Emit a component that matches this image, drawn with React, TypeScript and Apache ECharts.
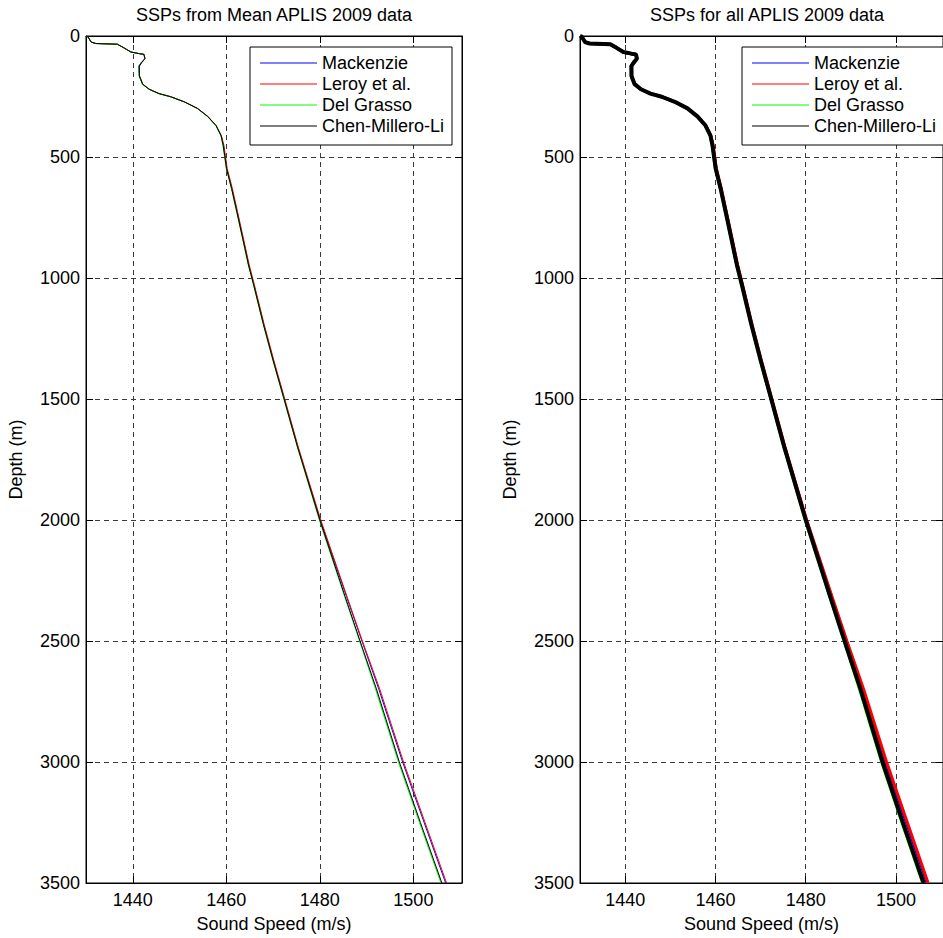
import React, { useEffect, useRef } from "react";
import * as echarts from "echarts";

// Depth (m), shared by every profile
const depths = [0, 3, 25, 31, 34, 49, 66, 73, 76, 94, 110, 124, 165, 199, 220, 238, 251, 272, 299, 332, 370, 412, 453, 494, 548, 631, 726, 822, 946, 1028, 1192, 1343, 1493, 1699, 2000, 2316, 2500, 2698, 3000, 3250, 3500];

// Sound speed (m/s) per equation
const mackenzie = [1430.0, 1430.4, 1431.1, 1432.1, 1436.7, 1438.1, 1439.6, 1441.4, 1442.4, 1442.6, 1441.8, 1441.3, 1441.4, 1442.1, 1443.5, 1445.6, 1448.1, 1451.0, 1453.8, 1456.0, 1457.8, 1458.9, 1459.4, 1459.7, 1460.1, 1461.2, 1462.3, 1463.4, 1464.8, 1465.9, 1468.0, 1470.1, 1472.3, 1475.3, 1480.1, 1485.7, 1489.0, 1492.6, 1497.7, 1502.3, 1506.9];
const leroy = [1430.0, 1430.4, 1431.1, 1432.1, 1436.7, 1438.1, 1439.6, 1441.4, 1442.4, 1442.6, 1441.9, 1441.4, 1441.45, 1442.15, 1443.55, 1445.65, 1448.15, 1451.05, 1453.85, 1456.05, 1457.85, 1458.95, 1459.5, 1459.8, 1460.2, 1461.3, 1462.4, 1463.5, 1464.9, 1466.0, 1468.1, 1470.2, 1472.4, 1475.4, 1480.2, 1485.8, 1489.1, 1492.8, 1497.9, 1502.5, 1507.1];
const delGrasso = [1430.0, 1430.4, 1431.1, 1432.1, 1436.7, 1438.1, 1439.6, 1441.4, 1442.4, 1442.6, 1441.9, 1441.4, 1441.35, 1442.05, 1443.45, 1445.55, 1448.05, 1450.95, 1453.75, 1455.95, 1457.75, 1458.85, 1459.3, 1459.6, 1460.0, 1461.1, 1462.2, 1463.3, 1464.7, 1465.8, 1467.9, 1470.0, 1472.2, 1475.2, 1479.9, 1485.3, 1488.5, 1491.9, 1496.8, 1501.3, 1505.9];
const chenMilleroLi = [1430.0, 1430.4, 1431.1, 1432.1, 1436.7, 1438.1, 1439.6, 1441.4, 1442.4, 1442.6, 1441.9, 1441.4, 1441.4, 1442.1, 1443.5, 1445.6, 1448.1, 1451.0, 1453.8, 1456.0, 1457.8, 1458.9, 1459.35, 1459.65, 1460.05, 1461.15, 1462.25, 1463.35, 1464.75, 1465.85, 1467.95, 1470.05, 1472.25, 1475.25, 1480.0, 1485.4, 1488.6, 1492.1, 1497.0, 1501.5, 1506.1];

const seriesNames = ["Mackenzie", "Leroy et al.", "Del Grasso", "Chen-Millero-Li"];
const seriesValues = [mackenzie, leroy, delGrasso, chenMilleroLi];
const seriesColors = ["#0000ff", "#ff0000", "#00ff00", "#000000"];

const xTicks = [1440, 1460, 1480, 1500];
const titles = ["SSPs from Mean APLIS 2009 data", "SSPs for all APLIS 2009 data"];
const xName = "Sound Speed (m/s)";
const yName = "Depth (m)";

const FONT = "'Liberation Sans', Arial, sans-serif";
const FS = 18;

export default function App() {
  const ref = useRef<HTMLDivElement>(null);
  useEffect(() => {
    if (!ref.current) return;
    const chart = echarts.init(ref.current, null, { renderer: "svg" });
    const grids = [
      { left: 86, top: 36, width: 376, height: 849 },
      { left: 580, top: 36, width: 376, height: 849 },
    ];
    const xMin = 1430, xMax = 1510.4;
    const xAxes: any[] = [];
    const yAxes: any[] = [];
    grids.forEach((_, gi) => {
      xAxes.push({
        type: "value", gridIndex: gi, position: "bottom", min: xMin, max: xMax,
        name: xName, nameLocation: "middle", nameGap: 32,
        nameTextStyle: { color: "#000", fontSize: FS, fontFamily: FONT },
        axisLine: { show: true, onZero: false, lineStyle: { color: "#000", width: 1 } },
        axisTick: { show: true, inside: true, length: 7, customValues: xTicks, lineStyle: { color: "#000" } },
        axisLabel: { show: true, customValues: xTicks, color: "#000", fontSize: FS, fontFamily: FONT, margin: 8, formatter: (v: number) => String(v) },
        splitLine: { show: true, lineStyle: { color: "#3a3a3a", type: [5, 4], width: 1 } },
      });
      xAxes.push({
        type: "value", gridIndex: gi, position: "top", min: xMin, max: xMax,
        axisLine: { show: true, onZero: false, lineStyle: { color: "#000", width: 1 } },
        axisTick: { show: true, inside: true, length: 7, customValues: xTicks, lineStyle: { color: "#000" } },
        axisLabel: { show: false },
        splitLine: { show: false },
      });
      yAxes.push({
        type: "value", gridIndex: gi, position: "left", inverse: true, min: 0, max: 3500, interval: 500,
        name: yName, nameLocation: "middle", nameGap: 61, nameRotate: 90,
        nameTextStyle: { color: "#000", fontSize: FS, fontFamily: FONT },
        axisLine: { show: true, onZero: false, lineStyle: { color: "#000", width: 1 } },
        axisTick: { show: true, inside: true, length: 7, lineStyle: { color: "#000" } },
        axisLabel: { show: true, color: "#000", fontSize: FS, fontFamily: FONT, margin: 6, formatter: (v: number) => String(v) },
        splitLine: { show: true, lineStyle: { color: "#3a3a3a", type: [5, 4], width: 1 } },
      });
      yAxes.push({
        type: "value", gridIndex: gi, position: "right", inverse: true, min: 0, max: 3500, interval: 500,
        axisLine: { show: true, onZero: false, lineStyle: { color: "#000", width: 1 } },
        axisTick: { show: true, inside: true, length: 7, lineStyle: { color: "#000" } },
        axisLabel: { show: false },
        splitLine: { show: false },
      });
    });

    const series: any[] = [];
    [0, 1].forEach((gi) => {
      seriesNames.forEach((name, si) => {
        const vals = seriesValues[si];
        series.push({
          type: "line", name, xAxisIndex: gi * 2, yAxisIndex: gi * 2,
          data: depths.map((d, i) => [vals[i], d]),
          symbol: "none", showSymbol: false,
          lineStyle: { color: seriesColors[si], width: gi === 0 ? 1 : si === 3 ? 4 : 3 },
          itemStyle: { color: seriesColors[si] },
          z: 2 + si,
          silent: true,
        });
      });
    });

    const legendBase = {
      orient: "vertical", top: 54, itemWidth: 57, itemHeight: 1, itemGap: 3,
      selectedMode: false, icon: "rect",
      textStyle: { color: "#000", fontSize: FS, fontFamily: FONT, lineHeight: 18 },
      data: seriesNames, z: 10, padding: 0,
    };

    chart.setOption({
      animation: false,
      grid: grids.map((g) => ({ ...g, show: true, borderColor: "#000", borderWidth: 1, backgroundColor: "#fff" })),
      xAxis: xAxes,
      yAxis: yAxes,
      legend: [
        { ...legendBase, left: 260 },
        { ...legendBase, left: 752 },
      ],
      graphic: [
        { type: "rect", z: 8, shape: { x: 250, y: 47, width: 202, height: 98 }, style: { fill: "#fff", stroke: "#000", lineWidth: 1 } },
        { type: "rect", z: 8, shape: { x: 742, y: 47, width: 210, height: 98 }, style: { fill: "#fff", stroke: "#000", lineWidth: 1 } },
        { type: "text", x: 274, y: 15, style: { text: titles[0], fill: "#000", font: `${FS}px ${FONT}`, textAlign: "center", textVerticalAlign: "middle" } },
        { type: "text", x: 767, y: 15, style: { text: titles[1], fill: "#000", font: `${FS}px ${FONT}`, textAlign: "center", textVerticalAlign: "middle" } },
      ],
      series,
    });
    return () => chart.dispose();
  }, []);
  return <div ref={ref} style={{ position: "fixed", left: 0, top: 0, width: 943, height: 938, background: "#fff" }} />;
}
